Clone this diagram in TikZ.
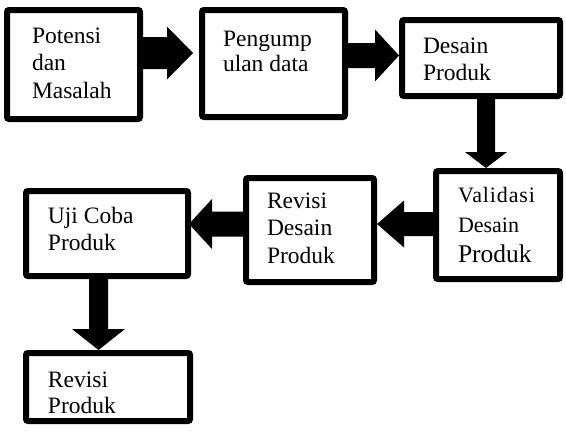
\documentclass[tikz,border=0pt]{standalone}
\usepackage{fontspec}
\setmainfont{Liberation Serif}
\usetikzlibrary{calc}
\tikzset{
  box/.style={draw=black, line width=6pt, rounded corners=2pt, rectangle, inner sep=0pt, fill=white},
  lbl/.style={anchor=base west, inner sep=0pt, outer sep=0pt},
}
\newcommand\blockarrow[5]{%
  \coordinate (hb) at ($(#2)!#5!(#1)$);
  \fill[black] ($(#1)!#3!90:(#2)$) -- ($(hb)!#3!90:(#2)$) -- ($(hb)!#4!90:(#2)$) -- (#2)
    -- ($(hb)!#4!-90:(#2)$) -- ($(hb)!#3!-90:(#2)$) -- ($(#1)!#3!-90:(#2)$) -- cycle;}
\newcommand\lines[2]{\parbox[t]{160pt}{\fontsize{23.5}{#1}\selectfont\raggedright #2}}
\begin{document}
\begin{tikzpicture}[x=1pt,y=-1pt]
\useasboundingbox (0,0) rectangle (566,434);
% boxes
\node[box, minimum width=133pt, minimum height=109pt] (b1) at (73.5,64.5) {};
\node[box, minimum width=143pt, minimum height=107pt] (b2) at (273.5,63.5) {};
\node[box, minimum width=158pt, minimum height=76pt] (b3) at (481,58) {};
\node[box, minimum width=124pt, minimum height=108pt] (b4) at (498,225) {};
\node[box, minimum width=128pt, minimum height=104pt] (b5) at (310,230) {};
\node[box, minimum width=162pt, minimum height=85pt] (b6) at (107,233.5) {};
\node[box, minimum width=164pt, minimum height=68pt] (b7) at (108,387) {};
% labels
\node[lbl] (t1) at (32,43) {\lines{27.5}{Potensi\\dan\\Masalah}};
\node[lbl] (t2) at (223,46) {\lines{25.5}{Pengump\\ulan data}};
\node[lbl] (t3) at (423,53) {\lines{27}{Desain\\Produk}};
\node[lbl] (t4) at (458,202) {\parbox[t]{160pt}{\fontsize{22}{30}\selectfont\raggedright
  {\addfontfeature{LetterSpace=4}Validasi}\\Desain\\{\fontsize{25.5}{30}\selectfont Produk}}};
\node[lbl] (t5) at (267,208) {\lines{27.5}{Revisi\\Desain\\Produk}};
\node[lbl] (t6) at (48,223) {\lines{27}{Uji Coba\\Produk}};
\node[lbl] (t7) at (48,387) {\lines{26}{Revisi\\Produk}};
% arrow ends
\coordinate (a1s) at ([yshift=11.5pt]b1.east);
\coordinate (a1e) at ($(a1s -| b2.west)+(-6,0)$);
\coordinate (a2s) at ([yshift=8pt]b2.east);
\coordinate (a2e) at (a2s -| b3.west);
\coordinate (a3s) at ([xshift=5pt]b3.south);
\coordinate (a3e) at (a3s |- b4.north);
\coordinate (a4s) at ([yshift=1pt]b4.west);
\coordinate (a4e) at (a4s -| b5.east);
\coordinate (a5s) at ([yshift=6pt]b5.west);
\coordinate (a5e) at ($(a5s -| b6.east)+(-2,0)$);
\coordinate (a6s) at ([xshift=-8.5pt]b6.south);
\coordinate (a6e) at (a6s |- b7.north);
% block arrows
\blockarrow{a1s}{a1e}{16pt}{26.5pt}{26pt}
\blockarrow{a2s}{a2e}{12.5pt}{26pt}{24pt}
\blockarrow{a3s}{a3e}{9pt}{21pt}{16pt}
\blockarrow{a4s}{a4e}{12pt}{23.5pt}{27pt}
\blockarrow{a5s}{a5e}{12.5pt}{25pt}{23pt}
\blockarrow{a6s}{a6e}{9.5pt}{26.5pt}{21pt}
\end{tikzpicture}
\end{document}
